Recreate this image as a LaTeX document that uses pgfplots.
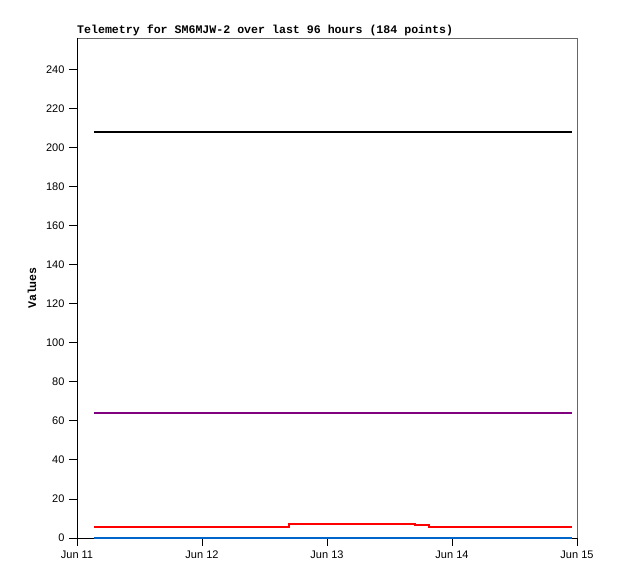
\documentclass[border=0pt]{standalone}
\usepackage{pgfplots}
\pgfplotsset{compat=1.18}
\usepackage{fontspec}
\setmainfont{Liberation Sans}
\newfontfamily\monob{Liberation Mono}[BoldFont={* Bold}]
\definecolor{rpurple}{RGB}{128,0,128}
\definecolor{rblue}{RGB}{0,102,204}
\begin{document}
\begin{tikzpicture}
\useasboundingbox (-77pt,-41pt) rectangle (541pt,538pt);
\begin{axis}[
  at={(0,0)}, anchor=origin,
  scale only axis, width=500pt, height=500pt,
  xmin=0, xmax=4, ymin=0, ymax=256,
  axis x line*=bottom, axis y line*=left,
  axis line style={draw=none, -},
  xtick={0,1,2,3,4},
  xticklabels={Jun 11,Jun 12,Jun 13,Jun 14,Jun 15},
  ytick={0,20,...,240},
  tick align=outside,
  major tick length=8pt,
  tick style={draw=black, line width=0.8pt},
  /pgf/number format/assume math mode=true,
  ticklabel style={font=\fontsize{11}{13}\selectfont},
  xticklabel style={yshift=-1pt},
  yticklabel style={xshift=-1pt},
  clip=false,
]
\draw[gray!80!black, line width=0.8pt] (rel axis cs:0,1) -- (rel axis cs:1,1) -- (rel axis cs:1,0);
\draw[black, line width=0.8pt] (rel axis cs:0,1) -- (rel axis cs:0,0) -- (rel axis cs:1,0);
\addplot[black, line width=2.1pt] coordinates {(0.136,208) (3.96,208)};
\addplot[rpurple, line width=2.1pt] coordinates {(0.136,64.2) (3.96,64.2)};
\addplot[red, line width=2.1pt] coordinates {(0.136,5.8) (1.693,5.8) (1.693,7.0) (2.706,7.0) (2.706,6.5) (2.813,6.5) (2.813,5.8) (3.96,5.8)};
\addplot[rblue, line width=2.1pt] coordinates {(0.136,0.2) (3.96,0.2)};
\node[anchor=base west, inner sep=0pt, font=\monob\bfseries\fontsize{11.6}{13}\selectfont] at ([yshift=4pt]rel axis cs:0,1) {Telemetry for SM6MJW-2 over last 96 hours (184 points)};
\node[anchor=center, rotate=90, inner sep=0pt, font=\monob\bfseries\fontsize{11.6}{13}\selectfont] at ([xshift=-45pt]rel axis cs:0,0.5) {Values};
\end{axis}
\end{tikzpicture}
\end{document}
